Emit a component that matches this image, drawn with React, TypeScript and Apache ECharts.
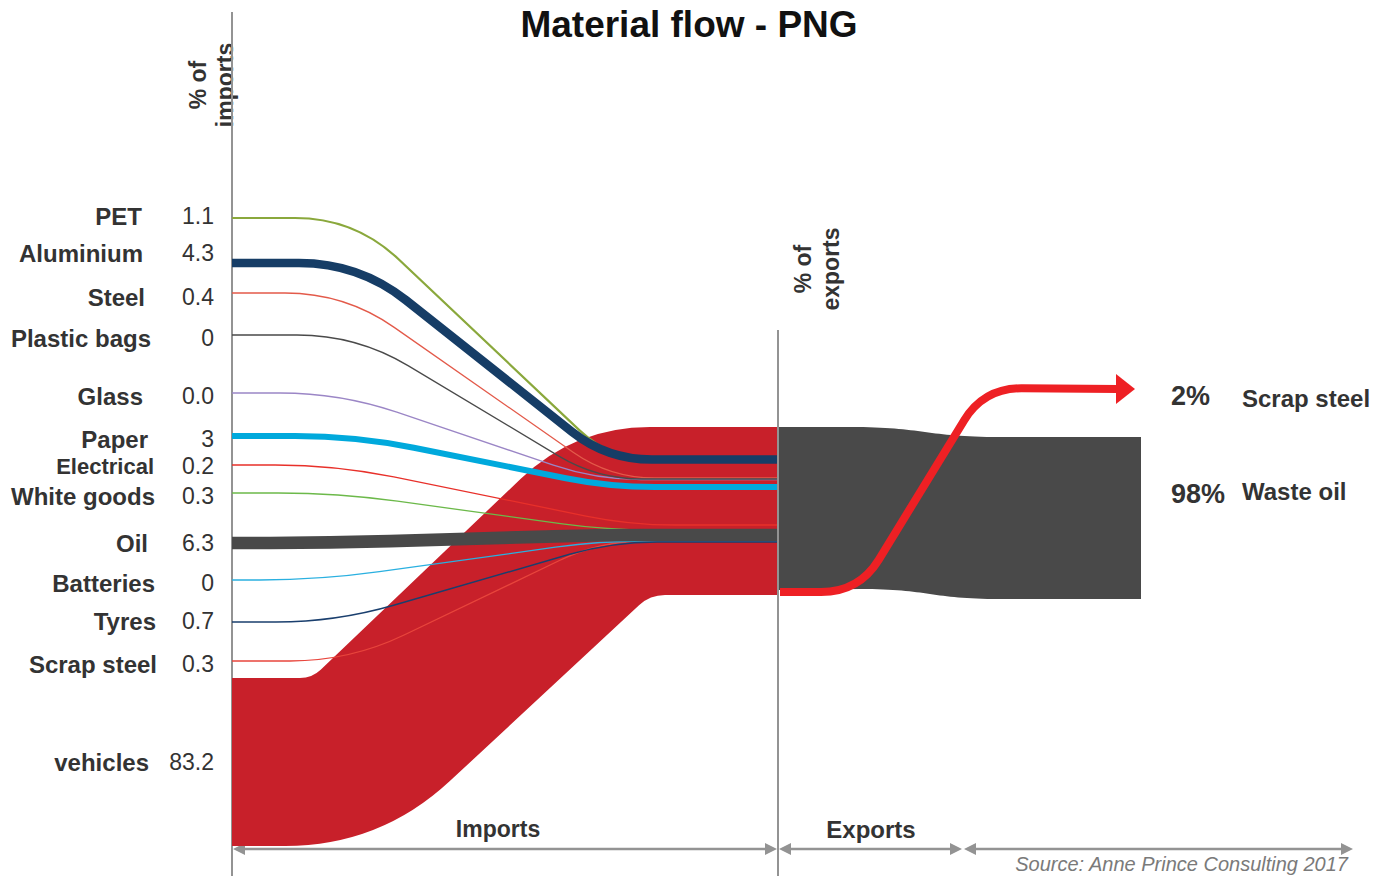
import React, { useEffect, useRef } from 'react';
import * as echarts from 'echarts';

// ---------- data ----------
const categories = ['PET', 'Aluminium', 'Steel', 'Plastic bags', 'Glass', 'Paper', 'Electrical', 'White goods', 'Oil', 'Batteries', 'Tyres', 'Scrap steel', 'vehicles'];
const importShare = [1.1, 4.3, 0.4, 0, 0.0, 3, 0.2, 0.3, 6.3, 0, 0.7, 0.3, 83.2];
const importLabels = ['1.1', '4.3', '0.4', '0', '0.0', '3', '0.2', '0.3', '6.3', '0', '0.7', '0.3', '83.2'];
const exportCategories = ['Scrap steel', 'Waste oil'];
const exportShare = [2, 98];
const exportLabels = ['2%', '98%'];

// ---------- layout (layout space = 1373 x 876 units) ----------
const PX_PER_PCT = 2.02;
const AXIS_X0 = 232;
const AXIS_X1 = 778;
const EXPORT_END = 1141;
const labelY = [216, 253, 297, 338, 396, 439, 466, 496, 543, 583, 621, 664, 762];
const labelRightX = [142, 143, 145, 151, 143, 148, 154, 155, 148, 155, 156, 157, 149];
const labelFont = [24, 24, 24, 24, 24, 24, 22, 24, 24, 24, 24, 24, 24];
const flowStartY = [218, 263, 293, 335, 393, 436, 465, 493, 543, 580, 622, 661, 762];
const flowEndY = [461, 459.5, 478, 479, 479.5, 487, 525, 530, 535, 541, 542, 541, 511];
const bendStartX = [355, 359, 345, 357, 340, 355, 335, 338, 330, 320, 336, 350, 312];
const bendEndX = [612, 607, 610, 597, 596, 610, 630, 607, 600, 600, 612, 600, 575];
const vehicleBottomBend = [380, 650];
const flowColors = ['#8aa83c', '#163d66', '#e35a4a', '#4a4a4a', '#9b86c6', '#00a9dc', '#e8302a', '#6cb94a', '#494949', '#2ab0e0', '#1a3f6e', '#e8453c', '#c8202a'];
const drawRank = [1, 10, 2, 4, 3, 9, 5, 6, 11, 8, 12, 7, 0];
const exportLabelY = [396, 494];
const exportNameY = [398, 491];

const FONT = '"Liberation Sans", Arial, Helvetica, sans-serif';
const TEXT = '#333333';
const AXIS = '#939393';

function roundedEdge(pts: number[][], radii: number[], move: boolean): string {
  let d = (move ? 'M' : 'L') + pts[0][0] + ' ' + pts[0][1];
  const n = pts.length;
  for (let i = 1; i < n - 1; i++) {
    const p = pts[i - 1], c = pts[i], q = pts[i + 1];
    const d1 = Math.hypot(c[0] - p[0], c[1] - p[1]);
    const d2 = Math.hypot(q[0] - c[0], q[1] - c[1]);
    const r = Math.min(radii[i - 1], d1 * (i === 1 ? 1 : 0.5), d2 * (i === n - 2 ? 1 : 0.5));
    const a = [c[0] - ((c[0] - p[0]) / d1) * r, c[1] - ((c[1] - p[1]) / d1) * r];
    const b = [c[0] + ((q[0] - c[0]) / d2) * r, c[1] + ((q[1] - c[1]) / d2) * r];
    d += ` L${a[0]} ${a[1]} Q${c[0]} ${c[1]} ${b[0]} ${b[1]}`;
  }
  const l = pts[n - 1];
  d += ` L${l[0]} ${l[1]}`;
  return d;
}

function arrowGraphics(x1: number, x2: number, y: number) {
  const h = 6, len = 12;
  return [
    { type: 'line', shape: { x1: x1 + 6, y1: y, x2: x2 - 6, y2: y }, style: { stroke: AXIS, lineWidth: 2.5 } },
    { type: 'polygon', shape: { points: [[x1, y], [x1 + len, y - h], [x1 + len, y + h]] }, style: { fill: AXIS } },
    { type: 'polygon', shape: { points: [[x2, y], [x2 - len, y - h], [x2 - len, y + h]] }, style: { fill: AXIS } },
  ];
}

export default function App() {
  const ref = useRef<HTMLDivElement>(null);

  useEffect(() => {
    const chart = echarts.init(ref.current as HTMLDivElement, null, { renderer: 'svg' });

    const option: any = {
      animation: false,
      backgroundColor: '#ffffff',
      grid: { left: 0, right: 0, top: 0, bottom: 0 },
      xAxis: { type: 'value', min: 0, max: 1373, show: false },
      yAxis: { type: 'value', min: 0, max: 876, inverse: true, show: false },
      graphic: [
        { type: 'line', shape: { x1: AXIS_X0, y1: 12, x2: AXIS_X0, y2: 876 }, style: { stroke: AXIS, lineWidth: 2 }, z: 1 },
        { type: 'line', shape: { x1: AXIS_X1, y1: 330, x2: AXIS_X1, y2: 876 }, style: { stroke: AXIS, lineWidth: 2 }, z: 100 },
        {
          type: 'text', x: 689, y: 24,
          style: { text: 'Material flow - PNG', font: `bold 37px ${FONT}`, fill: '#111', align: 'center', verticalAlign: 'middle' },
        },
        {
          type: 'text', x: 211, y: 85, rotation: Math.PI / 2,
          style: { text: '% of\nimports', font: `bold 23px ${FONT}`, fill: TEXT, align: 'center', verticalAlign: 'middle', lineHeight: 27 },
        },
        {
          type: 'text', x: 817, y: 269, rotation: Math.PI / 2,
          style: { text: '% of\nexports', font: `bold 23px ${FONT}`, fill: TEXT, align: 'center', verticalAlign: 'middle', lineHeight: 28 },
        },
        { type: 'text', x: 498, y: 829, style: { text: 'Imports', font: `bold 23px ${FONT}`, fill: TEXT, align: 'center', verticalAlign: 'middle' } },
        { type: 'text', x: 871, y: 829, style: { text: 'Exports', font: `bold 24px ${FONT}`, fill: TEXT, align: 'center', verticalAlign: 'middle' } },
        ...arrowGraphics(AXIS_X0 + 1, AXIS_X1 - 1, 849),
        ...arrowGraphics(AXIS_X1 + 1, 962, 849),
        ...arrowGraphics(964, 1353, 849),
        {
          type: 'text', x: 1348, y: 874,
          style: { text: 'Source: Anne Prince Consulting 2017', font: `italic 20px ${FONT}`, fill: '#7a7a7a', align: 'right', verticalAlign: 'bottom' },
        },
      ],
      series: [
        {
          type: 'custom',
          name: 'imports',
          coordinateSystem: 'cartesian2d',
          data: categories.map((c, i) => ({ name: c, value: [i, importShare[i]] })),
          renderItem: (params: any, api: any) => {
            const i = api.value(0) as number;
            const v = api.value(1) as number;
            const P = (x: number, y: number) => api.coord([x, y]);
            const y0 = flowStartY[i];
            const y1 = flowEndY[i];
            if (categories[i] === 'vehicles') {
              const half = (v * PX_PER_PCT) / 2;
              const top = [P(AXIS_X0, y0 - half), P(bendStartX[i], y0 - half), P(bendEndX[i], y1 - half), P(AXIS_X1, y1 - half)];
              const bottom = [P(AXIS_X0, y0 + half), P(vehicleBottomBend[0], y0 + half), P(vehicleBottomBend[1], y1 + half), P(AXIS_X1, y1 + half)];
              const d = roundedEdge(top, [12, 75], true) + ' ' + roundedEdge(bottom.slice().reverse(), [15, 95], false) + ' Z';
              return { type: 'path', z2: drawRank[i], shape: { pathData: d }, style: { fill: flowColors[i], stroke: null } };
            }
            const w = Math.max(api.size([0, v * PX_PER_PCT])[1], 1.3);
            const pts = [P(AXIS_X0, y0), P(bendStartX[i], y0), P(bendEndX[i], y1), P(AXIS_X1, y1)];
            const d = roundedEdge(pts, [60, 45], true);
            return { type: 'path', z2: drawRank[i], shape: { pathData: d }, style: { fill: null, stroke: flowColors[i], lineWidth: w } };
          },
        },
        {
          type: 'custom',
          name: 'importLabels',
          coordinateSystem: 'cartesian2d',
          data: categories.map((c, i) => ({ name: c, value: [i, importShare[i]] })),
          renderItem: (params: any, api: any) => {
            const i = api.value(0) as number;
            const pn = api.coord([labelRightX[i], labelY[i]]);
            const pv = api.coord([214, labelY[i]]);
            return {
              type: 'group',
              children: [
                { type: 'text', x: pn[0], y: pn[1], style: { text: categories[i], font: `bold ${labelFont[i]}px ${FONT}`, fill: TEXT, align: 'right', verticalAlign: 'middle' } },
                { type: 'text', x: pv[0], y: pv[1], style: { text: importLabels[i], font: `23px ${FONT}`, fill: TEXT, align: 'right', verticalAlign: 'middle' } },
              ],
            };
          },
        },
        {
          type: 'custom',
          name: 'exports',
          coordinateSystem: 'cartesian2d',
          data: exportCategories.map((c, i) => ({ name: c, value: [i, exportShare[i]] })),
          renderItem: (params: any, api: any) => {
            const i = api.value(0) as number;
            const P = (x: number, y: number) => api.coord([x, y]);
            const pl = P(1171, exportLabelY[i]);
            const pn = P(1242, exportNameY[i]);
            const texts = [
              { type: 'text', x: pl[0], y: pl[1], z2: 5, style: { text: exportLabels[i], font: `bold 27px ${FONT}`, fill: TEXT, align: 'left', verticalAlign: 'middle' } },
              { type: 'text', x: pn[0], y: pn[1], z2: 5, style: { text: exportCategories[i], font: `bold 24px ${FONT}`, fill: TEXT, align: 'left', verticalAlign: 'middle' } },
            ];
            if (exportCategories[i] === 'Waste oil') {
              const a = P(AXIS_X1, 427), b = P(850, 427), c1 = P(925, 427), c2 = P(925, 437), e = P(1000, 437), f = P(EXPORT_END, 437);
              const g = P(EXPORT_END, 599), h = P(1000, 599), k1 = P(930, 599), k2 = P(930, 589), m = P(860, 589), o = P(AXIS_X1, 590);
              const d = `M${a[0]} ${a[1]} L${b[0]} ${b[1]} C${c1[0]} ${c1[1]} ${c2[0]} ${c2[1]} ${e[0]} ${e[1]} L${f[0]} ${f[1]} L${g[0]} ${g[1]} L${h[0]} ${h[1]} C${k1[0]} ${k1[1]} ${k2[0]} ${k2[1]} ${m[0]} ${m[1]} L${o[0]} ${o[1]} Z`;
              return { type: 'group', children: [{ type: 'path', z2: 0, shape: { pathData: d }, style: { fill: '#494949', stroke: null } }, ...texts] };
            }
            const pts = [P(AXIS_X1 + 2, 592), P(859, 592), P(984, 388), P(1118, 389)];
            const d = roundedEdge(pts, [38, 38], true);
            const t1 = P(1116, 374), t2 = P(1135, 389), t3 = P(1116, 404);
            return {
              type: 'group',
              children: [
                { type: 'path', z2: 3, shape: { pathData: d }, style: { fill: null, stroke: '#ee2024', lineWidth: 8 } },
                { type: 'polygon', z2: 3, shape: { points: [t1, t2, t3] }, style: { fill: '#ee2024' } },
                ...texts,
              ],
            };
          },
        },
      ],
    };

    chart.setOption(option);
    return () => chart.dispose();
  }, []);

  return <div ref={ref} style={{ position: 'absolute', left: 0, top: 0, width: 1373, height: 876, background: '#fff' }} />;
}
